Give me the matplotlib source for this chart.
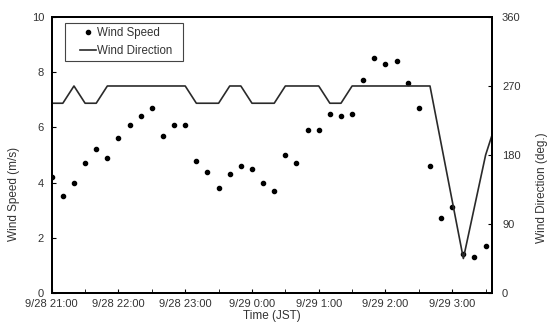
import matplotlib
matplotlib.use('Agg')
import matplotlib.pyplot as plt
import matplotlib.dates as mdates
from matplotlib.patches import Rectangle
import pandas as pd

plt.rcParams['font.family'] = ['Liberation Sans', 'DejaVu Sans']

# observations every 10 min from 9/28 21:00 (JST)
speed = [4.2, 3.5, 4.0, 4.7, 5.2, 4.9, 5.6, 6.1, 6.4, 6.7,
         5.7, 6.1, 6.1, 4.8, 4.4, 3.8, 4.3, 4.6, 4.5, 4.0,
         3.7, 5.0, 4.7, 5.9, 5.9, 6.5, 6.4, 6.5, 7.7, 8.5,
         8.3, 8.4, 7.6, 6.7, 4.6, 2.7, 3.1, 1.4, 1.3, 1.7]
direction = [247.5, 247.5, 270, 247.5, 247.5, 270, 270, 270, 270, 270,
             270, 270, 270, 247.5, 247.5, 247.5, 270, 270, 247.5, 247.5,
             247.5, 270, 270, 270, 270, 247.5, 247.5, 270, 270, 270,
             270, 270, 270, 270, 270, 195, 120, 45, 112.5, 180, 225]

t_speed = pd.date_range('2000-09-28 21:00', periods=len(speed), freq='10min')
t_dir = pd.date_range('2000-09-28 21:00', periods=len(direction), freq='10min')

fig = plt.figure(figsize=(5.49, 3.33), dpi=100)
ax = fig.add_axes([0.0942, 0.1201, 0.8025, 0.8289])
ax2 = ax.twinx()

ln_s, = ax.plot(t_speed, speed, 'o', color='black', markersize=3.0, label='Wind Speed', zorder=3)
ln_d, = ax2.plot(t_dir, direction, '-', color='#2a2a2a', linewidth=1.2, label='Wind Direction')

ax.set_xlim(pd.Timestamp('2000-09-28 21:00'), pd.Timestamp('2000-09-29 03:36'))
ax.set_ylim(0, 10)
ax2.set_ylim(0, 360)
ax.set_yticks([0, 2, 4, 6, 8, 10])
ax2.set_yticks([0, 90, 180, 270, 360])

ax.xaxis.set_major_locator(mdates.HourLocator())
ax.xaxis.set_minor_locator(mdates.MinuteLocator(byminute=[30]))
ax.xaxis.set_major_formatter(
    plt.FuncFormatter(lambda x, pos: (lambda d: f"{d.month}/{d.day} {d.hour}:{d.minute:02d}")(mdates.num2date(x))))

tc = '#333333'
ax.tick_params(axis='x', which='both', direction='in', length=3, pad=4, labelsize=8, labelcolor=tc)
ax.tick_params(axis='y', direction='in', length=3, pad=5.5, labelsize=8, labelcolor=tc)
ax2.tick_params(axis='y', direction='in', length=3, pad=7, labelsize=8, labelcolor=tc)

for a in (ax, ax2):
    for s in a.spines.values():
        s.set_linewidth(1.4)

ax.set_xlabel('Time (JST)', fontsize=8.5, color=tc, labelpad=1)
ax.set_ylabel('Wind Speed (m/s)', fontsize=8.5, color=tc)
ax2.set_ylabel('Wind Direction (deg.)', fontsize=8.5, color=tc)
ax.yaxis.set_label_coords(-0.072, 0.36)
ax2.yaxis.set_label_coords(1.1, 0.38)

# legend (Excel-style box with wide left margin)
leg = ax2.legend([ln_s, ln_d], ['Wind Speed', 'Wind Direction'], loc='upper left',
                 bbox_to_anchor=(0.064, 0.965), fontsize=8.3, frameon=False,
                 handlelength=1.4, handletextpad=0.1, borderpad=0, labelspacing=0.55,
                 borderaxespad=0)
for txt in leg.get_texts():
    txt.set_color(tc)
ax2.add_patch(Rectangle((0.0302, 0.841), 0.268, 0.137, transform=ax2.transAxes,
                        fill=True, facecolor='white', edgecolor='#444444', linewidth=0.8,
                        zorder=4))
leg.set_zorder(5)

fig.savefig('out.png', dpi=100)
